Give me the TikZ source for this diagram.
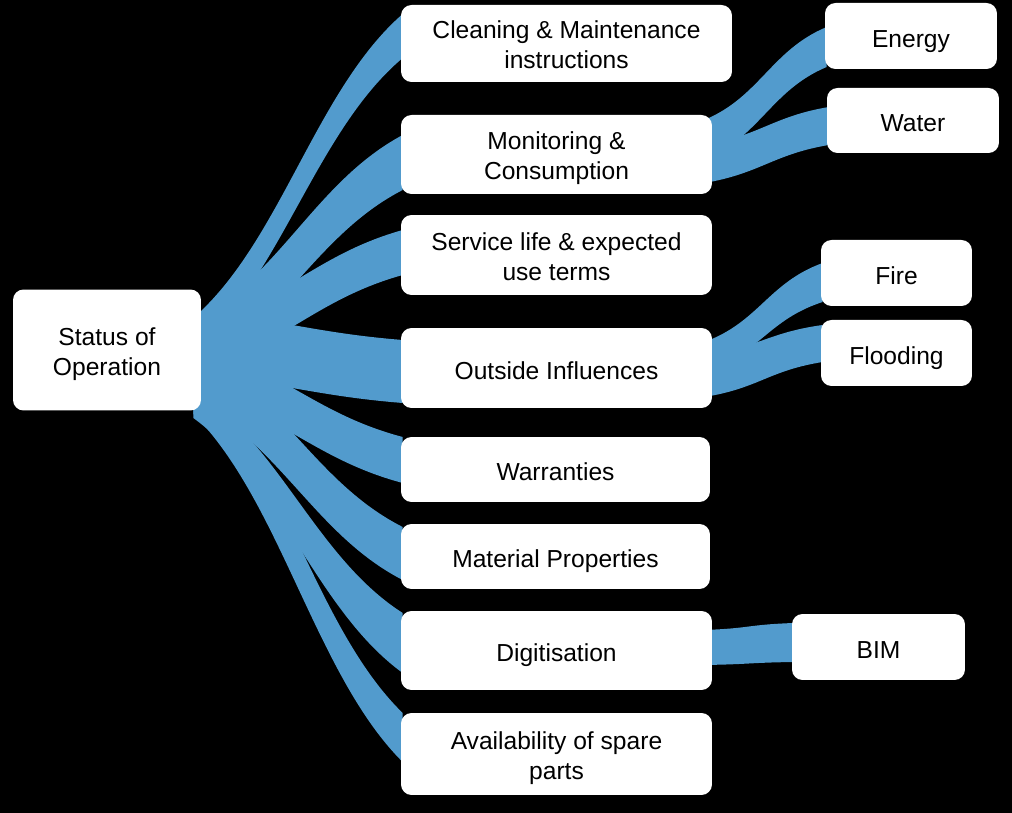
\documentclass[tikz,border=0pt]{standalone}
\usepackage{fontspec}
\setmainfont{Liberation Sans}
\usepackage{xcolor}
\usetikzlibrary{
    calc,
    positioning,
    backgrounds
}
\definecolor{flowblue}{RGB}{82,155,205}

% ribbon: from node, to node, top/bottom at start, top/bottom at end, push
\newcommand{\ribbon}[7]{%
    \coordinate (st) at ($(#1.east)+(-8,#3)$);
    \coordinate (sb) at ($(#1.east)+(-8,#4)$);
    \coordinate (tt) at ($(#2.west)+(2,#5)$);
    \coordinate (tb) at ($(#2.west)+(2,#6)$);
    \fill[flow] (st) .. controls ($(st)!.25!(tt)+(#7,0)$) and ($(tt)!.25!(st)-(#7,0)$) .. (tt)
        -- (tb) .. controls ($(tb)!.25!(sb)-(#7,0)$) and ($(sb)!.25!(tb)+(#7,0)$) .. (sb) -- cycle;
}

\begin{document}
\begin{tikzpicture}[x=0.02cm, y=-0.02cm,
    box/.style={fill=white, rounded corners=6pt, align=center, inner sep=2pt,
        font=\fontsize{14}{17}\selectfont},
    one/.style={text height=12.8pt, text depth=0pt},
    two/.style={text height=28.7pt, text depth=0pt},
    mid/.style={box, minimum width=6.22cm, minimum height=1.58cm},
    leaf/.style={box, one, minimum width=3.44cm, minimum height=1.32cm},
    flow/.style={fill=flowblue}]
    \node[box, two, minimum width=3.76cm, minimum height=2.42cm] (root) at (107, 350) {Status of\\Operation};

    \node[mid, two, minimum width=6.62cm, minimum height=1.54cm] (clean) at (566.5, 43.5) {Cleaning \& Maintenance\\instructions};
    \node[mid, two] (monitor) at (556.5, 154.5) {Monitoring \&\\Consumption};
    \node[mid, two, minimum height=1.6cm] (service) at (556.5, 255) {Service life \& expected\\use terms};
    \node[mid, one, minimum height=1.6cm] (outside) at (556.5, 368) {Outside Influences};
    \node[mid, one, minimum width=6.18cm, minimum height=1.3cm] (warrant) at (555.5, 469.5) {Warranties};
    \node[mid, one, minimum width=6.18cm, minimum height=1.3cm] (material) at (555.5, 556.5) {Material Properties};
    \node[mid, one] (digit) at (556.5, 650.5) {Digitisation};
    \node[mid, two, minimum height=1.64cm] (spare) at (556.5, 754) {Availability of spare\\parts};

    \node[leaf] (energy) at (911, 36) {Energy};
    \node[leaf, minimum height=1.3cm] (water) at (913, 120.5) {Water};
    \node[leaf, minimum width=3.02cm] (fire) at (896.5, 273) {Fire};
    \node[leaf, minimum width=3.02cm] (flood) at (896.5, 353) {Flooding};
    \node[leaf, minimum width=3.46cm] (bim) at (878.5, 647) {BIM};

    \begin{scope}[on background layer]
        \fill[black] (0, 0) rectangle (1012, 813);
        \ribbon{root}{clean}{-32}{2}{-29.5}{14.5}{35}
        \ribbon{root}{monitor}{-28}{20}{-19.5}{35.5}{35}
        \ribbon{root}{service}{-22}{22}{-25}{20}{35}
        \ribbon{root}{outside}{-38}{25}{-28}{35}{35}
        \ribbon{root}{warrant}{-5}{40}{-32.5}{13.5}{35}
        \ribbon{root}{material}{0}{50}{-29.5}{23.5}{35}
        \ribbon{root}{digit}{39}{68}{-37.5}{22.5}{35}
        \ribbon{root}{spare}{22}{64}{-41}{8}{35}
        \ribbon{monitor}{energy}{-34.5}{5.5}{-9}{31}{25}
        \ribbon{monitor}{water}{-9.5}{28.5}{-13.5}{24.5}{25}
        \ribbon{outside}{fire}{-26}{4}{-10}{29}{25}
        \ribbon{outside}{flood}{-13}{29}{-28}{9}{25}
        \ribbon{digit}{bim}{-20.5}{14.5}{-24}{15}{25}
    \end{scope}
\end{tikzpicture}
\end{document}
